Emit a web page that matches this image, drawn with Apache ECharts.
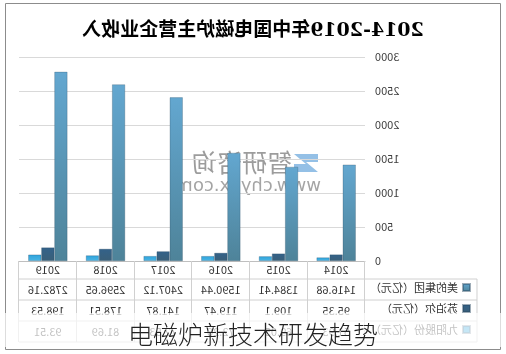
<!DOCTYPE html>
<html>
<head>
<meta charset="utf-8">
<script src="https://cdn.jsdelivr.net/npm/echarts@6/dist/echarts.min.js"></script>
<style>
  html, body { margin: 0; padding: 0; background: #fff; }
  #wrap { position: relative; width: 506px; height: 354px; overflow: hidden; }
  #chart { width: 506px; height: 354px; transform: scaleX(-1); }
  #band { position: absolute; left: 0; top: 313px; width: 506px; height: 34px; background: rgba(255,255,255,0.7); }
  #caption { position: absolute; left: 0; top: 320px; width: 506px; text-align: center;
    font: 25px/27px 'Noto Sans CJK SC', sans-serif; color: #222; font-weight: 300; }
</style>
</head>
<body>
<div id="wrap">
  <div id="chart"></div>
  <div id="band"></div>
  <div id="caption">电磁炉新技术研发趋势</div>
</div>
<script>
// 数据
const years = ["2014", "2015", "2016", "2017", "2018", "2019"];
const seriesNames = ["美的集团（亿元）", "苏泊尔（亿元）", "九阳股份（亿元）"];
const midea = [1416.68, 1384.41, 1590.44, 2407.12, 2596.65, 2782.16];
const supor = [95.35, 109.1, 119.47, 141.87, 178.51, 198.53];
const joyoung = [51.93, 69.05, 72.26, 72.53, 81.69, 93.51];
const yTicks = { min: 0, max: 3000, interval: 500 };

const rows = [midea, supor, joyoung];
const colors = ["#4f8fb8", "#2f5b80", "#3aaee2"];
const grads = [
    ["#63a7d0", "#4e8399"],
    ["#33628a", "#3a5f78"],
    ["#2ea3dc", "#4ab5e4"]
];

const FONT = "'Noto Sans CJK SC', sans-serif";
const lineColor = "#d0d0d0";

// 表格行（用额外的类目轴画数值）
const rowAxes = rows.map((vals, i) => ({
    type: "category",
    gridIndex: 0,
    position: "bottom",
    offset: 18 + 21 * i,
    data: vals.map(v => String(v)),
    axisLine: { show: false },
    axisTick: { show: false },
    axisLabel: { margin: 5, fontSize: 11, color: "#333", fontFamily: FONT }
}));

// 表格横线
const tableLines = [279, 300, 321, 342].map(y => ({
    type: "line",
    shape: { x1: 29, y1: y, x2: 487, y2: y },
    style: { stroke: lineColor, lineWidth: 1 },
    silent: true
}));

const option = {
    animation: false,
    backgroundColor: "#fff",
    title: {
        text: "2014-2019年中国电磁炉主营企业收入",
        left: "center",
        top: 17,
        textStyle: { fontSize: 19, fontWeight: "bold", color: "#000", fontFamily: "'DejaVu Serif', 'Noto Sans CJK SC', serif" }
    },
    legend: {
        orient: "vertical",
        left: 30,
        top: 277,
        itemWidth: 7,
        itemHeight: 7,
        itemGap: 10,
        icon: "rect",
        data: seriesNames,
        textStyle: { fontSize: 11, color: "#333", fontFamily: FONT, lineHeight: 11 }
    },
    grid: { left: 141, right: 19, top: 57, bottom: 93 },
    xAxis: [
        {
            type: "category",
            data: years,
            axisLine: { lineStyle: { color: "#bfbfbf" } },
            axisTick: { show: true, length: 81, interval: 0, lineStyle: { color: lineColor } },
            axisLabel: { margin: 3, fontSize: 11, color: "#333", fontFamily: FONT }
        }
    ].concat(rowAxes),
    yAxis: {
        type: "value",
        min: yTicks.min,
        max: yTicks.max,
        interval: yTicks.interval,
        axisLine: { show: false },
        axisTick: { show: false },
        axisLabel: { margin: 10, fontSize: 11, color: "#404040", fontFamily: FONT, formatter: v => String(v) },
        splitLine: { lineStyle: { color: "#d9d9d9" } }
    },
    series: rows.map((vals, i) => ({
        name: seriesNames[i],
        type: "bar",
        data: vals,
        barGap: "0%",
        barCategoryGap: "32%",
        itemStyle: {
            color: new echarts.graphic.LinearGradient(0, 0, 0, 1, [
                { offset: 0, color: grads[i][0] },
                { offset: 1, color: grads[i][1] }
            ]),
            borderColor: "rgba(40,70,95,0.45)",
            borderWidth: 0.6
        }
    })),
    color: colors,
    graphic: [
        {
            type: "rect",
            shape: { x: 5.5, y: 3.5, width: 495, height: 346 },
            style: { fill: "none", stroke: "#8c8c8c", lineWidth: 1 },
            silent: true
        },
        {
            type: "line",
            shape: { x1: 29, y1: 279, x2: 29, y2: 342 },
            style: { stroke: lineColor, lineWidth: 1 },
            silent: true
        },
        // 水印
        {
            type: "polygon",
            shape: { points: [[188, 154], [212, 154], [200, 164], [212, 164], [212, 172], [188, 172], [200, 162], [188, 162]] },
            style: { fill: "rgba(60,140,210,0.55)" },
            silent: true
        },
        {
            type: "text",
            left: 214,
            top: 150,
            style: { text: "智研咨询", fontSize: 25, fill: "rgba(90,90,90,0.6)", fontFamily: FONT },
            silent: true
        },
        {
            type: "text",
            left: 185,
            top: 177,
            style: { text: "www.chyxx.com", fontSize: 18, fill: "rgba(90,90,90,0.55)", fontFamily: "'DejaVu Sans', sans-serif" },
            silent: true
        }
    ].concat(tableLines)
};

const myChart = echarts.init(document.getElementById("chart"));
myChart.setOption(option);
</script>
</body>
</html>
